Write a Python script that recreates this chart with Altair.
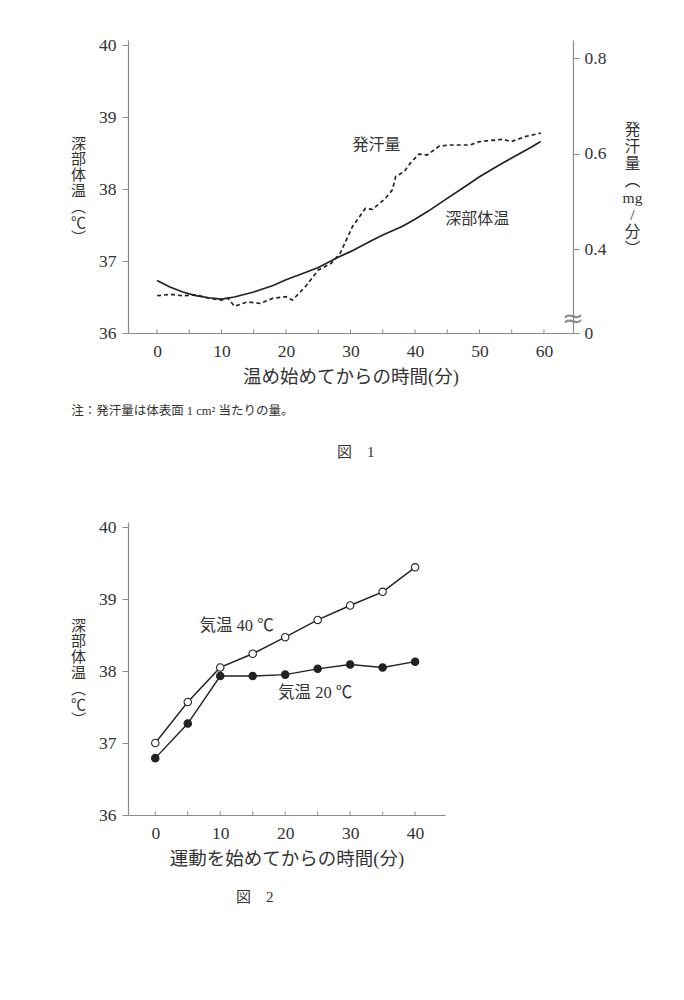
import altair as alt
import pandas as pd

FONT = "Liberation Serif, Noto Sans CJK JP"
INK = "#222222"
TEXT = "#333333"
AXIS = "#8a8a8a"

# --- 図1: warming, core temperature and sweat rate ---
core_min = [0, 2, 4, 6, 8, 10, 12, 15, 18, 20, 23, 25, 28, 30, 33, 35, 38, 40,
            42, 45, 48, 50, 53, 55, 58, 59.5]
core_temp = [36.73, 36.64, 36.57, 36.52, 36.49, 36.47, 36.50, 36.57, 36.66, 36.74,
             36.84, 36.91, 37.05, 37.13, 37.27, 37.36, 37.48, 37.58, 37.69, 37.87,
             38.05, 38.17, 38.33, 38.43, 38.58, 38.66]

sweat_min = [0, 2, 4, 6, 8, 10, 11, 12, 14, 16, 18, 20, 21, 23, 25, 27, 28.4, 30.3,
             32.3, 33.4, 35.4, 36.5, 37.0, 38.3, 39.3, 40.6, 41.9, 43.7, 45.2, 48.5,
             50, 53.6, 54.9, 57.2, 59.5]
sweat_rate = [0.302, 0.305, 0.302, 0.304, 0.297, 0.293, 0.297, 0.280, 0.289, 0.286,
              0.297, 0.300, 0.293, 0.321, 0.356, 0.370, 0.391, 0.447, 0.485, 0.483,
              0.506, 0.524, 0.552, 0.562, 0.580, 0.599, 0.597, 0.615, 0.618, 0.618,
              0.625, 0.630, 0.625, 0.636, 0.643]

# --- 図2: exercise at two air temperatures ---
ex_min = [0, 5, 10, 15, 20, 25, 30, 35, 40]
hot_temp = [37.00, 37.57, 38.05, 38.24, 38.47, 38.71, 38.91, 39.10, 39.44]
cool_temp = [36.79, 37.27, 37.93, 37.93, 37.95, 38.03, 38.09, 38.05, 38.13]

temp_ticks = [36, 37, 38, 39, 40]
minor_ticks_1 = list(range(0, 61, 5))
minor_ticks_2 = list(range(0, 41, 5))

temp_title = ["深", "部", "体", "温", "︵", "℃", "︶"]
sweat_title = ["発", "汗", "量", "︵", "mg", "/", "分", "︶"]


def x_enc(domain, values, title):
    return alt.X("min:Q", scale=alt.Scale(domain=domain, nice=False, zero=False),
                 axis=alt.Axis(values=values, format="d", ticks=False, labelPadding=9,
                               title=title, titlePadding=8, titleFontSize=18.5))


def y_temp(title_y):
    return alt.Y("temp:Q", scale=alt.Scale(domain=[36, 40.07], nice=False, zero=False),
                 axis=alt.Axis(values=temp_ticks, format="d", tickSize=6, labelPadding=6,
                               title=temp_title, titleAngle=0, titleAlign="center",
                               titleBaseline="middle", titleX=-50, titleY=title_y,
                               titleLineHeight=15.8, titleFontSize=15))


# 図1 -------------------------------------------------------------------
X1 = x_enc([-4.5, 64.5], [0, 10, 20, 30, 40, 50, 60], "温め始めてからの時間(分)")

core_df = pd.DataFrame({"min": core_min, "temp": core_temp})
sweat_df = pd.DataFrame({"min": sweat_min, "rate": sweat_rate})

core_line = alt.Chart(core_df).mark_line(color=INK, strokeWidth=1.7).encode(
    x=X1, y=y_temp(103))

ticks1 = alt.Chart(pd.DataFrame({"min": minor_ticks_1, "temp": 36.0, "temp2": 36.05})).mark_rule(
    color=AXIS, strokeWidth=1).encode(x="min:Q", y="temp:Q", y2="temp2:Q")

labels1 = alt.Chart(pd.DataFrame({
    "min": [30.3, 44.7], "temp": [38.61, 37.58], "label": ["発汗量", "深部体温"]})
).mark_text(font=FONT, fontSize=16, color=TEXT, align="left", baseline="middle").encode(
    x="min:Q", y="temp:Q", text="label:N")

brk = alt.Chart(pd.DataFrame({"min": [64.5], "temp": [36.2], "label": ["≈"]})).mark_text(
    font="DejaVu Sans", fontSize=26, color=AXIS, align="center", baseline="middle").encode(
    x="min:Q", y="temp:Q", text="label:N")

note = alt.Chart(pd.DataFrame({"min": [-13.3], "temp": [34.92],
                               "label": ["注：発汗量は体表面 1 cm² 当たりの量。"]})).mark_text(
    font=FONT, fontSize=12.5, color=TEXT, align="left", baseline="middle").encode(
    x="min:Q", y="temp:Q", text="label:N")

cap1 = alt.Chart(pd.DataFrame({"min": [30.8], "temp": [34.35], "label": ["図　1"]})).mark_text(
    font=FONT, fontSize=15, color=TEXT, align="center", baseline="middle").encode(
    x="min:Q", y="temp:Q", text="label:N")

sweat_line = alt.Chart(sweat_df).mark_line(
    color=INK, strokeWidth=1.7, strokeDash=[4, 3]).encode(
    x=X1,
    y=alt.Y("rate:Q", scale=alt.Scale(domain=[0.224, 0.838], nice=False, zero=False),
            axis=alt.Axis(orient="right", values=[0.224, 0.4, 0.6, 0.8], tickSize=6,
                          labelPadding=5,
                          labelExpr="datum.value < 0.3 ? '0' : format(datum.value, '.1f')",
                          title=sweat_title, titleAngle=0, titleAlign="center",
                          titleBaseline="middle", titleX=59, titleY=89,
                          titleLineHeight=17, titleFontSize=15.5)))

left1 = alt.layer(core_line, ticks1, labels1, brk, note, cap1)
fig1 = alt.layer(left1, sweat_line).resolve_scale(y="independent").properties(
    width=445, height=293)

# 図2 -------------------------------------------------------------------
X2 = x_enc([-4.2, 44.6], [0, 10, 20, 30, 40], "運動を始めてからの時間(分)")

ex_df = pd.DataFrame({
    "min": ex_min * 2,
    "temp": hot_temp + cool_temp,
    "air": ["40"] * len(ex_min) + ["20"] * len(ex_min),
})

ex_lines = alt.Chart(ex_df).mark_line(color=INK, strokeWidth=1.4).encode(
    x=X2, y=y_temp(103), detail="air:N")

ex_points = alt.Chart(ex_df).mark_point(
    shape="circle", size=55, strokeWidth=1.1, opacity=1, stroke=INK).encode(
    x="min:Q", y="temp:Q",
    fill=alt.Fill("air:N", scale=alt.Scale(domain=["40", "20"], range=["white", INK]),
                  legend=None))

ticks2 = alt.Chart(pd.DataFrame({"min": minor_ticks_2, "temp": 36.0, "temp2": 36.05})).mark_rule(
    color=AXIS, strokeWidth=1).encode(x="min:Q", y="temp:Q", y2="temp2:Q")

labels2 = alt.Chart(pd.DataFrame({
    "min": [6.8, 18.9], "temp": [38.62, 37.69], "label": ["気温 40 ℃", "気温 20 ℃"]})
).mark_text(font=FONT, fontSize=16.5, color=TEXT, align="left", baseline="middle").encode(
    x="min:Q", y="temp:Q", text="label:N")

cap2 = alt.Chart(pd.DataFrame({"min": [15.3], "temp": [34.86], "label": ["図　2"]})).mark_text(
    font=FONT, fontSize=15, color=TEXT, align="center", baseline="middle").encode(
    x="min:Q", y="temp:Q", text="label:N")

fig2 = alt.layer(ex_lines, ex_points, ticks2, labels2, cap2).properties(width=317, height=293)

chart = alt.vconcat(fig1, fig2, spacing=58).properties(
    padding={"left": 62, "top": 28, "right": 5, "bottom": 5},
    background="white",
).configure_view(stroke=None).configure_axis(
    labelFont=FONT, titleFont=FONT, labelFontSize=17.5, titleFontSize=16,
    labelColor=TEXT, titleColor=TEXT, titleFontWeight="normal",
    domainColor=AXIS, tickColor=AXIS, domainWidth=1.2, grid=False,
)

chart.save("out.html", embed_options={"renderer": "svg", "actions": False})
